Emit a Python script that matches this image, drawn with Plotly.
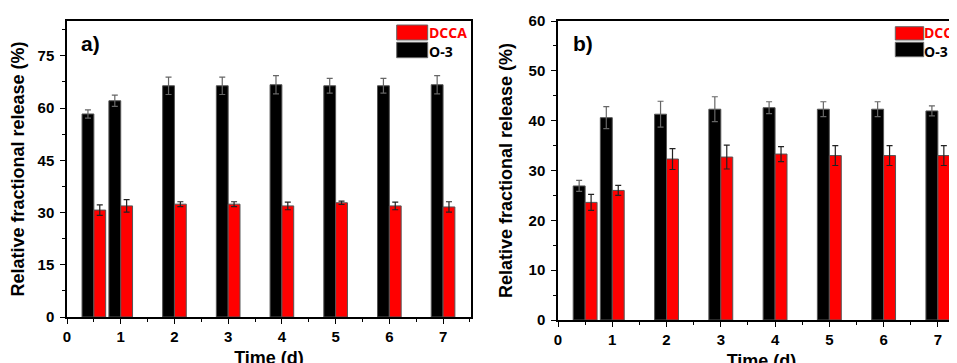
import plotly.graph_objects as go

# ---------------- data ----------------
days = [0.5, 1, 2, 3, 4, 5, 6, 7]
x_ticks = [0, 1, 2, 3, 4, 5, 6, 7]

a_o3 = [58.3, 62.1, 66.4, 66.4, 66.7, 66.4, 66.4, 66.7]
a_o3_err = [1.2, 1.6, 2.5, 2.5, 2.6, 2.1, 2.1, 2.6]
a_dcca = [30.7, 31.9, 32.4, 32.4, 31.9, 32.8, 31.9, 31.6]
a_dcca_err = [1.5, 1.8, 0.7, 0.7, 1.1, 0.5, 1.1, 1.5]

b_o3 = [26.9, 40.6, 41.3, 42.3, 42.6, 42.3, 42.3, 41.95]
b_o3_err = [1.1, 2.2, 2.6, 2.5, 1.2, 1.5, 1.5, 1.0]
b_dcca = [23.6, 26.0, 32.3, 32.7, 33.3, 33.0, 33.0, 33.0]
b_dcca_err = [1.6, 1.0, 2.1, 2.4, 1.5, 2.0, 2.0, 2.0]

a_yticks = [0, 15, 30, 45, 60, 75]
b_yticks = [0, 10, 20, 30, 40, 50, 60]

# ---------------- layout geometry ----------------
# The page body has an 8px default margin, so window px = figure px + 8.
OFF = 8
W, H = 957, 363
ML, MR, MT = 67 - OFF, 0, 21 - OFF
MB = H - (320 - OFF)
PW = W - ML - MR
PH = H - MT - MB


def px(x):
    return (x - OFF - ML) / PW


def py(y):
    return (H - MB - (y - OFF)) / PH


def clamp(v):
    return max(0.0, min(1.0, v))


FONT = "Liberation Sans, Arial, sans-serif"
LFONT = "Open Sans, Liberation Sans, sans-serif"
BW = 0.22

fig = go.Figure()


def add_pair(xa, ya, o3, o3e, dc, dce):
    fig.add_trace(go.Bar(
        x=days, y=o3, name="O-3", width=BW, offset=-BW,
        marker=dict(color="#000000", line=dict(color="#555555", width=1)),
        error_y=dict(type="data", array=o3e, color="#666666", thickness=1.2, width=3),
        xaxis=xa, yaxis=ya, showlegend=False))
    fig.add_trace(go.Bar(
        x=days, y=dc, name="DCCA", width=BW, offset=0,
        marker=dict(color="#ff0000", line=dict(color="#555555", width=1)),
        error_y=dict(type="data", array=dce, color="#222222", thickness=1.2, width=3),
        xaxis=xa, yaxis=ya, showlegend=False))


add_pair("x", "y", a_o3, a_o3_err, a_dcca, a_dcca_err)
add_pair("x2", "y2", b_o3, b_o3_err, b_dcca, b_dcca_err)

tickfont = dict(family=FONT, size=15, color="black", weight="bold")
titlefont = dict(family=FONT, size=18, color="black", weight="bold")

common_x = dict(
    tickmode="array", tickvals=x_ticks, ticktext=[str(v) for v in x_ticks],
    ticks="outside", ticklen=5, tickwidth=1.3, tickcolor="black",
    minor=dict(dtick=0.5, tick0=0, ticks="outside", ticklen=3, tickwidth=1.2, tickcolor="black"),
    showline=True, linecolor="black", linewidth=1.5, mirror=True,
    showgrid=False, zeroline=False, tickfont=tickfont, automargin=False,
    title=dict(text="Time (d)", font=titlefont, standoff=8),
)
common_y = dict(
    ticks="outside", ticklen=5, tickwidth=1.3, tickcolor="black",
    showline=True, linecolor="black", linewidth=1.5,
    showgrid=False, zeroline=False, tickfont=tickfont, automargin=False,
    ticklabelstandoff=3,
    title=dict(text="Relative fractional release (%)", font=titlefont),
)

fig.update_layout(
    width=W, height=H,
    margin=dict(l=ML, r=MR, t=MT, b=MB, autoexpand=False),
    paper_bgcolor="white", plot_bgcolor="white",
    barmode="overlay", template="none",
    font=dict(family=FONT, color="black"),
    xaxis=dict(domain=[0, clamp(px(471))], range=[0, 7.52], anchor="y", **common_x),
    yaxis=dict(domain=[clamp(py(317)), 1], range=[0, 85], anchor="x",
               tickmode="array", tickvals=a_yticks, mirror=True,
               minor=dict(dtick=7.5, tick0=0, ticks="outside", ticklen=3, tickwidth=1.2, tickcolor="black"),
               **common_y),
    xaxis2=dict(domain=[clamp(px(558)), 1], range=[0, 7.5], anchor="y2", **common_x),
    yaxis2=dict(domain=[0, 1], range=[0, 60], anchor="x2",
                tickmode="array", tickvals=b_yticks, mirror=True,
                minor=dict(dtick=5, tick0=0, ticks="outside", ticklen=3, tickwidth=1.2, tickcolor="black"),
                **common_y),
)

shapes = []
annotations = []


def legend(x0, x1, ry0, ry1, by0, by1, tx, ty1, ty2):
    shapes.append(dict(type="rect", xref="paper", yref="paper",
                       x0=px(x0), x1=px(x1), y0=py(ry1), y1=py(ry0),
                       fillcolor="#ff0000", line=dict(color="#666666", width=1)))
    shapes.append(dict(type="rect", xref="paper", yref="paper",
                       x0=px(x0), x1=px(x1), y0=py(by1), y1=py(by0),
                       fillcolor="#000000", line=dict(color="#666666", width=1)))
    annotations.append(dict(text="DCCA", xref="paper", yref="paper", x=px(tx), y=py(ty1),
                            xanchor="left", yanchor="middle", showarrow=False,
                            font=dict(family=LFONT, size=14, color="#ff0000", weight="bold")))
    annotations.append(dict(text="O-3", xref="paper", yref="paper", x=px(tx), y=py(ty2),
                            xanchor="left", yanchor="middle", showarrow=False,
                            font=dict(family=LFONT, size=14, color="black", weight="bold")))


legend(396.7, 427.7, 25, 40, 42.3, 57.7, 427, 33, 51)
legend(895.3, 923.7, 26.7, 40, 42.3, 56.7, 921.5, 33, 51)

annotations.append(dict(text="a)", xref="paper", yref="paper", x=px(79), y=py(44),
                        xanchor="left", yanchor="middle", showarrow=False,
                        font=dict(family=FONT, size=21, color="black", weight="bold")))
annotations.append(dict(text="b)", xref="paper", yref="paper", x=px(571), y=py(44),
                        xanchor="left", yanchor="middle", showarrow=False,
                        font=dict(family=FONT, size=21, color="black", weight="bold")))

fig.update_layout(shapes=shapes, annotations=annotations)

fig.write_html("out.html")
